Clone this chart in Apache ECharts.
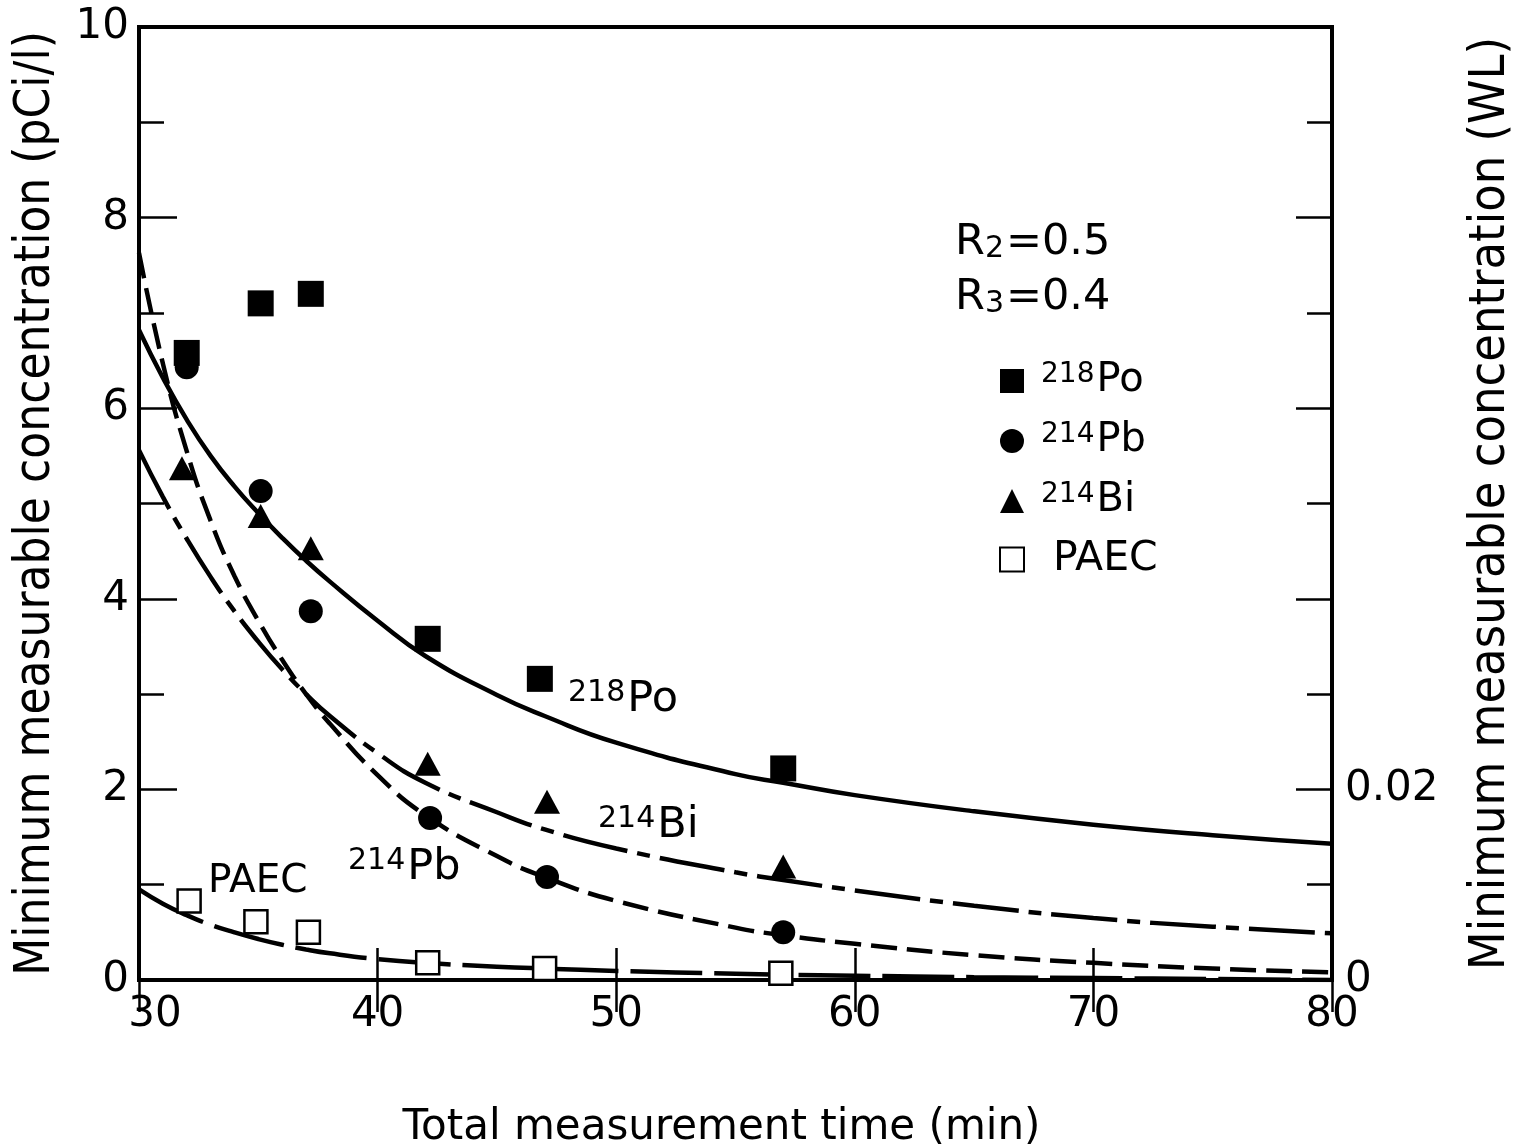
<!DOCTYPE html>
<html>
<head>
<meta charset="utf-8">
<script src="https://cdn.jsdelivr.net/npm/echarts@6/dist/echarts.min.js"></script>
<style>
html,body{margin:0;padding:0;background:#fff;}
#chart{width:1518px;height:1144px;}
</style>
</head>
<body>
<div id="chart"></div>
<script>
// ---- data ----
const curveTimes   = [30, 31, 32, 33, 34, 35, 36, 37, 38, 40, 42, 45, 47, 50, 55, 57, 60, 65, 70, 75, 80];
const po218Curve   = [6.82, 6.32, 5.88, 5.50, 5.18, 4.90, 4.64, 4.40, 4.18, 3.77, 3.40, 2.99, 2.77, 2.49, 2.16, 2.07, 1.94, 1.77, 1.63, 1.52, 1.43];
const pb214Curve   = [7.63, 6.47, 5.55, 4.82, 4.24, 3.77, 3.36, 3.00, 2.69, 2.15, 1.73, 1.30, 1.08, 0.83, 0.55, 0.47, 0.38, 0.26, 0.18, 0.12, 0.08];
const bi214Curve   = [5.56, 5.07, 4.63, 4.23, 3.87, 3.55, 3.26, 3.00, 2.77, 2.38, 2.07, 1.76, 1.58, 1.38, 1.13, 1.05, 0.94, 0.78, 0.65, 0.56, 0.49];
const paecCurve    = [0.95, 0.80, 0.68, 0.58, 0.50, 0.43, 0.37, 0.32, 0.28, 0.22, 0.18, 0.14, 0.12, 0.095, 0.065, 0.055, 0.045, 0.03, 0.02, 0.01, 0.00];

const po218Times   = [32.0, 35.1, 37.2, 42.1, 46.8, 57.0];
const po218Values  = [6.58, 7.10, 7.20, 3.58, 3.16, 2.22];
const pb214Times   = [32.0, 35.1, 37.2, 42.2, 47.1, 57.0];
const pb214Values  = [6.43, 5.13, 3.87, 1.70, 1.08, 0.50];
const bi214Times   = [31.8, 35.1, 37.2, 42.1, 47.1, 57.0];
const bi214Values  = [5.37, 4.87, 4.53, 2.27, 1.87, 1.19];
const paecTimes    = [32.1, 34.9, 37.1, 42.1, 47.0, 56.9];
const paecValues   = [0.83, 0.61, 0.50, 0.18, 0.12, 0.07];

const rightTickValues = [0, 0.02];
const rightTickLabels = ['0', '0.02'];
const seriesNames  = ['218Po', '214Pb', '214Bi', 'PAEC'];
// ---------------------------------------

const zip = (xs, ys) => xs.map((x, i) => [x, ys[i]]);
const FONT = 'DejaVu Sans';
const CFONT = '"DejaVu Sans Condensed", "DejaVu Sans"';
const supRich = {
  sup: {fontFamily: FONT, fontSize: 30, lineHeight: 32, verticalAlign: 'top', color: '#000'},
  el:  {fontFamily: FONT, fontSize: 43, lineHeight: 43, verticalAlign: 'bottom', padding: [16, 0, 0, 2], color: '#000'}
};
const rRich = {
  n: {fontFamily: FONT, fontSize: 43, lineHeight: 43, verticalAlign: 'top', color: '#000'},
  s: {fontFamily: FONT, fontSize: 30, lineHeight: 30, verticalAlign: 'bottom', padding: [24, 2, 0, 0], color: '#000'}
};

const chart = echarts.init(document.getElementById('chart'), null, {renderer: 'canvas'});

function lineSeries(name, arr, dash) {
  return {
    name: name + ' fit', type: 'line', data: zip(curveTimes, arr), smooth: 0.5,
    showSymbol: false, silent: true, z: 2,
    lineStyle: {color: '#000', width: 4.5, type: dash, cap: 'butt'}
  };
}

const option = {
  backgroundColor: '#fff',
  animation: false,
  grid: {left: 139, right: 186, top: 27, bottom: 164, show: true, borderColor: '#000', borderWidth: 4,
         backgroundColor: 'transparent', outerBoundsMode: 'none', containLabel: false},
  xAxis: [
    {
      type: 'value', min: 30, max: 80, interval: 10, position: 'bottom',
      axisLine: {show: false}, splitLine: {show: false},
      axisTick: {show: true, inside: true, length: 32, lineStyle: {color: '#000', width: 2.5}},
      axisLabel: {
        margin: 14, color: '#000', fontFamily: FONT, fontSize: 42,
        formatter: v => v === 30 ? '{first|30}' : '' + v,
        rich: {first: {fontFamily: FONT, fontSize: 42, color: '#000', padding: [0, 0, 0, 32]}}
      },
      name: 'Total measurement time (min)', nameLocation: 'middle', nameGap: 127,
      nameTextStyle: {color: '#000', fontFamily: FONT, fontSize: 42, padding: [0, 28, 0, 0]}
    },
    {
      type: 'value', min: 30, max: 80, interval: 10, position: 'top',
      axisLine: {show: false}, splitLine: {show: false}, axisLabel: {show: false},
      axisTick: {show: true, inside: true, length: 32, lineStyle: {color: '#000', width: 2.5}}
    }
  ],
  yAxis: [
    {
      type: 'value', min: 0, max: 10, interval: 2, position: 'left',
      axisLine: {show: false}, splitLine: {show: false},
      axisTick: {show: true, inside: true, length: 38, lineStyle: {color: '#000', width: 2.5}},
      minorTick: {show: true, splitNumber: 2, length: 25, lineStyle: {color: '#000', width: 2.5}},
      axisLabel: {margin: 10, color: '#000', fontFamily: FONT, fontSize: 42},
      name: 'Minimum measurable concentration (pCi/l)', nameLocation: 'middle', nameGap: 78, nameRotate: 90,
      nameTextStyle: {color: '#000', fontFamily: CFONT, fontSize: 49}
    },
    {
      type: 'value', min: 0, max: 0.1, interval: 0.02, position: 'right',
      axisLine: {show: false}, splitLine: {show: false},
      axisTick: {show: true, inside: true, length: 36, lineStyle: {color: '#000', width: 2.5}},
      minorTick: {show: true, splitNumber: 2, length: 25, lineStyle: {color: '#000', width: 2.5}},
      axisLabel: {
        margin: 13, color: '#000', fontFamily: FONT, fontSize: 42,
        formatter: v => {
          const i = rightTickValues.findIndex(t => Math.abs(t - v) < 1e-9);
          return i >= 0 ? rightTickLabels[i] : '';
        }
      },
      name: 'Minimum measurable concentration (WL)', nameLocation: 'middle', nameGap: 134, nameRotate: 90,
      nameTextStyle: {color: '#000', fontFamily: CFONT, fontSize: 50}
    }
  ],
  legend: {
    orient: 'vertical', left: 994, top: 340, itemWidth: 24, itemHeight: 24, itemGap: 4,
    data: seriesNames, selectedMode: false,
    formatter: name => {
      if (name === 'PAEC') return '{pl|PAEC}';
      return '{sup|' + name.slice(0, 3) + '}{el|' + name.slice(3) + '}';
    },
    textStyle: {
      color: '#000',
      rich: {
        sup: {fontFamily: FONT, fontSize: 28, lineHeight: 30, verticalAlign: 'top', padding: [0, 0, 0, 12], color: '#000'},
        el:  {fontFamily: FONT, fontSize: 40, lineHeight: 40, verticalAlign: 'bottom', padding: [16, 0, 0, 2], color: '#000'},
        pl:  {fontFamily: FONT, fontSize: 41, lineHeight: 40, padding: [14, 0, 14, 24], color: '#000'}
      }
    }
  },
  graphic: [
    {type: 'text', left: 955, top: 210, z: 10, style: {text: '{n|R}{s|2}{n|=0.5}', rich: rRich}},
    {type: 'text', left: 955, top: 265, z: 10, style: {text: '{n|R}{s|3}{n|=0.4}', rich: rRich}},
    {type: 'text', left: 568, top: 662, z: 10, style: {text: '{sup|218}{el|Po}', rich: supRich}},
    {type: 'text', left: 598, top: 788, z: 10, style: {text: '{sup|214}{el|Bi}', rich: supRich}},
    {type: 'text', left: 348, top: 830, z: 10, style: {text: '{sup|214}{el|Pb}', rich: supRich}},
    {type: 'text', left: 208, top: 862, z: 10, style: {text: 'PAEC', fill: '#000', font: '39px "DejaVu Sans"'}}
  ],
  series: [
    lineSeries('218Po', po218Curve, 'solid'),
    lineSeries('214Pb', pb214Curve, [26, 10]),
    lineSeries('214Bi', bi214Curve, [66, 10, 13, 10]),
    lineSeries('PAEC', paecCurve, [72, 12]),
    {name: '218Po', type: 'scatter', data: zip(po218Times, po218Values), symbol: 'rect', symbolSize: 26, z: 5,
      itemStyle: {color: '#000', opacity: 1}},
    {name: '214Pb', type: 'scatter', data: zip(pb214Times, pb214Values), symbol: 'circle', symbolSize: 24, z: 5,
      itemStyle: {color: '#000', opacity: 1}},
    {name: '214Bi', type: 'scatter', data: zip(bi214Times, bi214Values), symbol: 'triangle', symbolSize: [26, 24], z: 5,
      itemStyle: {color: '#000', opacity: 1}},
    {name: 'PAEC', type: 'scatter', data: zip(paecTimes, paecValues), symbol: 'rect', symbolSize: 23, z: 6,
      itemStyle: {color: '#fff', borderColor: '#000', borderWidth: 2.5, opacity: 1}}
  ]
};
chart.setOption(option);
</script>
</body>
</html>
